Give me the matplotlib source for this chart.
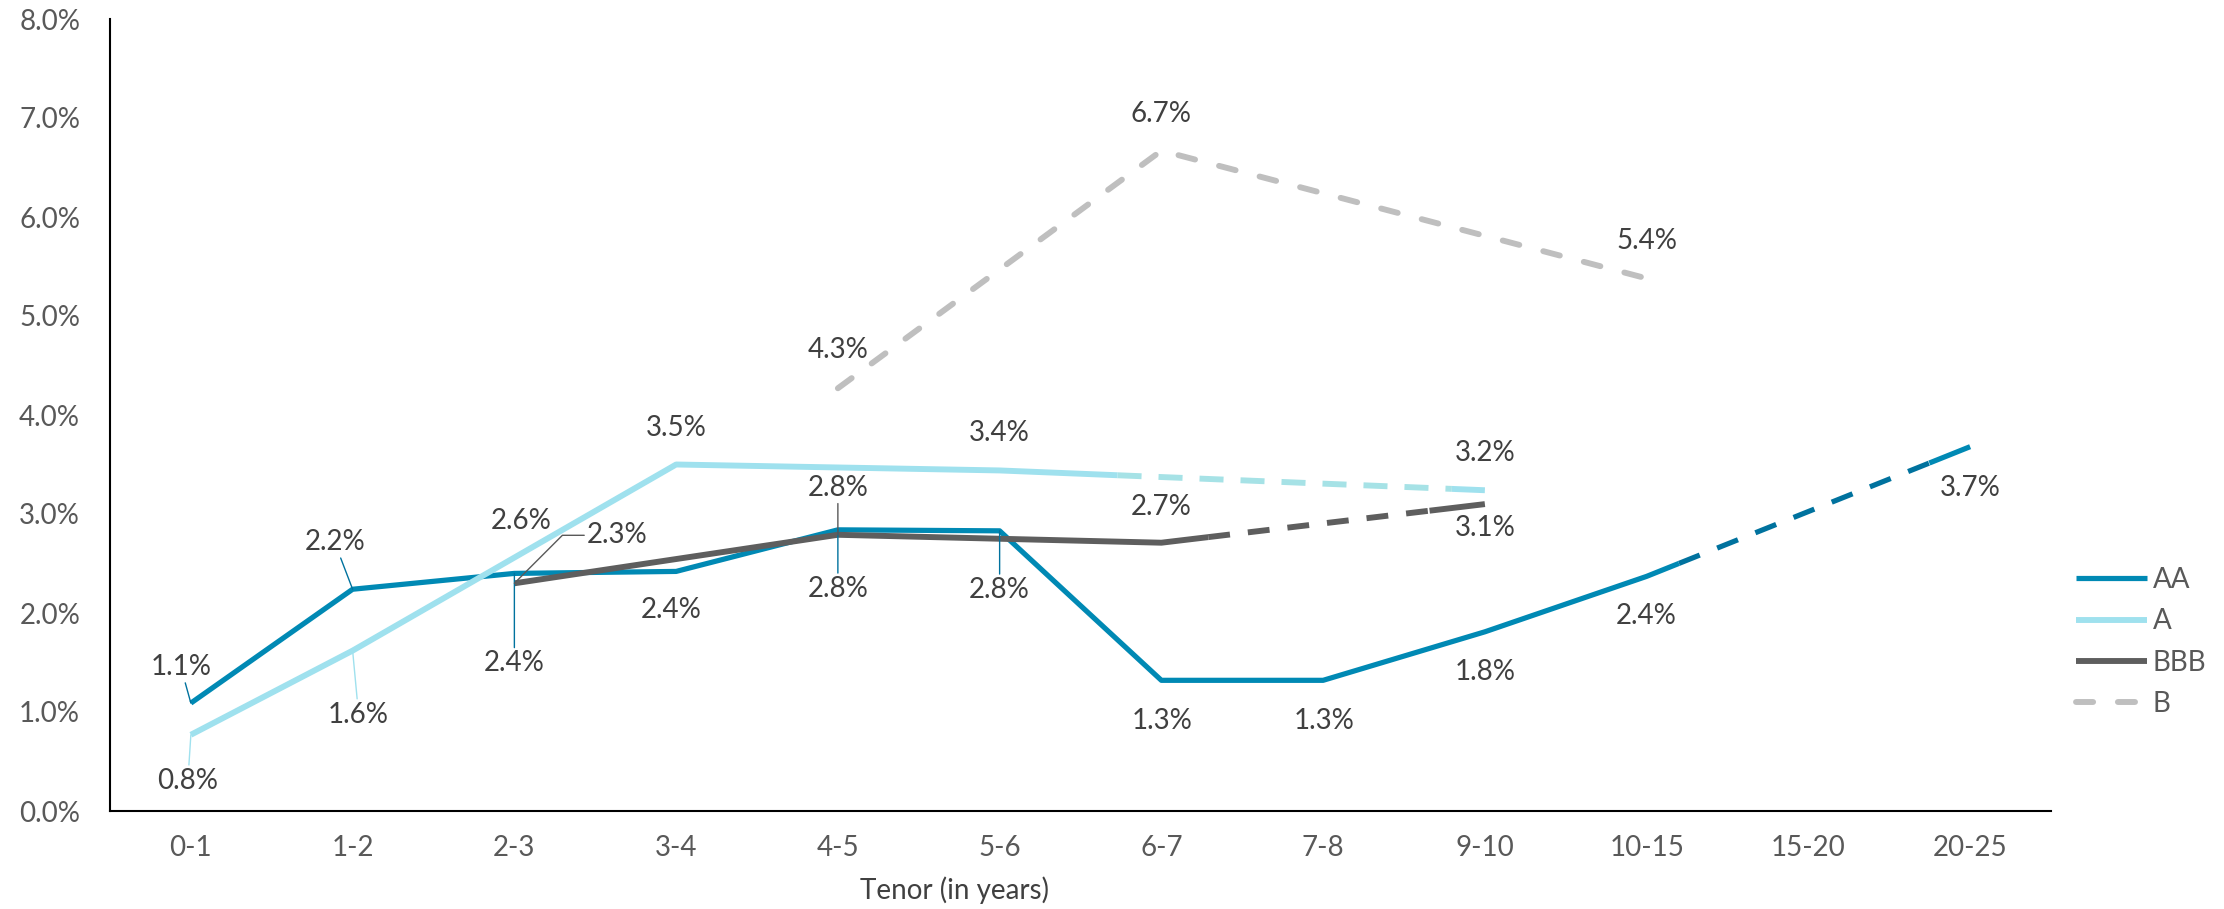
import numpy as np
import matplotlib.pyplot as plt

plt.rcParams['font.family'] = ['Lato', 'DejaVu Sans']

nan = np.nan
tenors = ['0-1', '1-2', '2-3', '3-4', '4-5', '5-6', '6-7', '7-8', '9-10', '10-15', '15-20', '20-25']
aa = [1.09, 2.24, 2.40, 2.42, 2.84, 2.83, 1.32, 1.32, 1.81, 2.37, nan, 3.68]
a = [0.77, 1.62, 2.56, 3.50, nan, 3.44, nan, nan, 3.24, nan, nan, nan]
bbb = [nan, nan, 2.30, nan, 2.79, nan, 2.71, nan, 3.10, nan, nan, nan]
b = [nan, nan, nan, nan, 4.27, nan, 6.67, nan, nan, 5.38, nan, nan]

# label offsets in pixels (dx, dy) and whether a leader line is drawn
aa_lab = [(-10, 36, 1), (-18, 47, 1), (0, -90, 1), (-5, -39, 0), (0, -59, 1), (0, -59, 1),
          (1, -41, 0), (1, -41, 0), (0, -40, 0), (0, -40, 0), (0, -41, 0)]
a_lab = [(-3, -46, 1), (6, -64, 1), (7, 37, 0), (0, 37, 0), (0, 37, 0), (0, 37, 0)]
bbb_lab = [(103, 48, 2), (0, 47, 1), (0, 36, 0), (0, -24, 0)]
b_lab = [(0, 38, 0), (0, 37, 0), (0, 37, 0)]

fig = plt.figure(figsize=(22.24, 9.09), dpi=100)
ax = fig.add_axes([110/2224, 98/909, 1941/2224, 792/909])
x = np.arange(len(tenors))


def draw(vals, color, lw, dash_from, dash_color, dash, lead, tail, round_cap=False):
    v = np.array(vals, dtype=float)
    idx = np.where(~np.isnan(v))[0]
    sol = idx[idx <= dash_from]
    das = idx[idx >= dash_from]
    sx, sy = list(x[sol]), list(v[sol])
    handle = None
    if len(das) >= 2:
        dx, dy = x[das].astype(float), v[das]
        if lead > 0:
            lx = dx[0] + lead * (dx[1] - dx[0])
            ly = dy[0] + lead * (dy[1] - dy[0])
            sx.append(lx); sy.append(ly)
            dx = np.r_[lx, dx[1:]]; dy = np.r_[ly, dy[1:]]
        if tail > 0:
            tx = dx[-1] - tail * (dx[-1] - dx[-2])
            ty = dy[-1] - tail * (dy[-1] - dy[-2])
            ax.plot([tx, dx[-1]], [ty, dy[-1]], color=color, lw=lw,
                    solid_capstyle='butt', zorder=3)
            dx = np.r_[dx[:-1], tx]; dy = np.r_[dy[:-1], ty]
        ln, = ax.plot(dx, dy, color=dash_color, lw=lw, dashes=dash,
                      dash_capstyle='round' if round_cap else 'butt',
                      dash_joinstyle='round', zorder=3)
        handle = ln
    if len(sx) >= 2:
        ln, = ax.plot(sx, sy, color=color, lw=lw, solid_capstyle='butt',
                      solid_joinstyle='round', zorder=3)
        handle = ln
    return v, idx, handle


def labels(v, idx, offs, lead_color):
    for i, (ox, oy, ld) in zip(idx, offs):
        kw = {}
        if ld == 1:
            kw['arrowprops'] = dict(arrowstyle='-', color=lead_color, lw=1.0,
                                    shrinkA=0, shrinkB=0)
        elif ld == 2:
            kw['arrowprops'] = dict(arrowstyle='-', color=lead_color, lw=1.0,
                                    shrinkA=0, shrinkB=0, relpos=(0, 0.5),
                                    connectionstyle='angle,angleA=180,angleB=45,rad=0')
        ax.annotate(f'{v[i]:.1f}%', (x[i], v[i]), xytext=(ox, oy),
                    textcoords='offset pixels', ha='center', va='center',
                    fontsize=20, color='#404040', zorder=5, **kw)


v1, i1, h1 = draw(aa, '#0089B4', 3.75, 9, '#00729E', (4.3, 3.6), 0.10, 0.14)
v2, i2, h2 = draw(a, '#9FE1EE', 4.25, 5, '#A6E2E6', (4.07, 2.88), 0.243, 0.09)
v3, i3, h3 = draw(bbb, '#5E5E5E', 4.25, 6, '#5E5E5E', (3.7, 3.05), 0.145, 0.2)
v4, i4, h4 = draw(b, '#BFBFBF', 4.25, 4, '#BFBFBF', (2.9, 4.2), 0, 0, round_cap=True)

labels(v1, i1, aa_lab, '#00729E')
labels(v2, i2, a_lab, '#9FE1EE')
labels(v3, i3, bbb_lab, '#595959')
labels(v4, i4, b_lab, '#BFBFBF')

ax.set_xlim(-0.5, 11.5)
ax.set_ylim(0, 8)
ax.set_xticks(x, tenors)
ax.set_yticks(np.arange(0, 9))
ax.yaxis.set_major_formatter(plt.FuncFormatter(lambda val, p: f'{val:.1f}%'))
ax.tick_params(length=0, labelsize=20, colors='#595959')
ax.tick_params(axis='x', pad=17.5)
ax.tick_params(axis='y', pad=21.5)
for s in ['top', 'right']:
    ax.spines[s].set_visible(False)
for s in ['left', 'bottom']:
    ax.spines[s].set_linewidth(1.5)
    ax.spines[s].set_color('black')

fig.text(955/2224, 1 - 890/909, 'Tenor (in years)', ha='center', va='center',
         fontsize=20, color='#404040')

leg = fig.legend([h1, h2, h3, h4], ['AA', 'A', 'BBB', 'B'], loc='center left',
                 bbox_to_anchor=(2076/2224, 1 - 642/909), frameon=False, fontsize=20,
                 handlelength=2.55, handletextpad=0.22, labelspacing=0.55,
                 borderpad=0, borderaxespad=0)
for t in leg.get_texts():
    t.set_color('#595959')

fig.savefig('out.png', dpi=100)
